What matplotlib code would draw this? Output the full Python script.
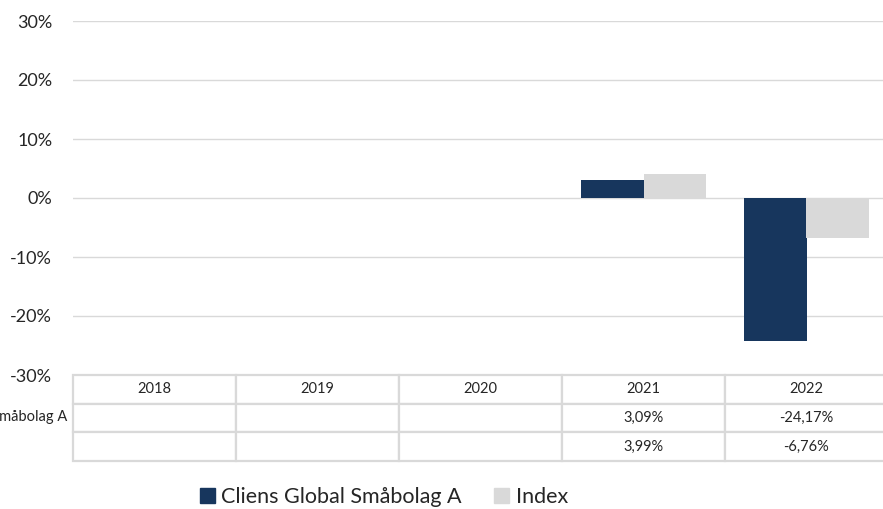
import matplotlib.pyplot as plt
import numpy as np
from matplotlib.patches import Patch

years = ["2018", "2019", "2020", "2021", "2022"]
fund_name = "Cliens Global Småbolag A"
index_name = "Index"
fund = [np.nan, np.nan, np.nan, 3.09, -24.17]
index = [np.nan, np.nan, np.nan, 3.99, -6.76]
yticks = [-30, -20, -10, 0, 10, 20, 30]

NAVY = "#17365d"
GREY = "#d9d9d9"
LINE = "#d9d9d9"
TXT = "#262626"

plt.rcParams["font.family"] = ["Lato", "DejaVu Sans"]


def pct(v):
    if np.isnan(v):
        return ""
    return f"{v:.2f}%".replace(".", ",")


W, H = 883, 509
fig = plt.figure(figsize=(W / 100, H / 100), dpi=100)
left, right, top, bottom = 73, 888, 21, 375
ax = fig.add_axes([left / W, 1 - bottom / H, (right - left) / W, (bottom - top) / H])

x = np.arange(len(years))
bw = 0.386
ax.bar(x - bw / 2, fund, bw, color=NAVY, zorder=3)
ax.bar(x + bw / 2, index, bw, color=GREY, zorder=3)

ax.set_xlim(-0.5, len(years) - 0.5)
ax.set_ylim(-30, 30)
ax.set_yticks(yticks)
ax.set_yticklabels([f"{t}%" for t in yticks], fontsize=13, color=TXT)
ax.tick_params(axis="y", length=0, pad=15)
ax.set_xticks([])
ax.grid(axis="y", color=LINE, linewidth=1, zorder=0)
for s in ax.spines.values():
    s.set_visible(False)

# data table under the plot
row_h = 86 / (bottom - top)
cells = [years, [pct(v) for v in fund], [pct(v) for v in index]]
tbl = ax.table(cellText=cells, cellLoc="center", bbox=[0, -row_h, 1, row_h])
tbl.auto_set_font_size(False)
for (r, c), cell in tbl.get_celld().items():
    cell.set_edgecolor(LINE)
    cell.set_linewidth(1.6)
    cell.set_text_props(fontsize=10.5, color=TXT)

# row label (cut by the figure edge as in the source)
fig.text(67 / W, 1 - 417 / H, fund_name, ha="right", va="center",
         fontsize=10.5, color=TXT)

handles = [Patch(color=NAVY, label=fund_name), Patch(color=GREY, label=index_name)]
fig.legend(handles=handles, loc="center", bbox_to_anchor=(384 / W, 1 - 497 / H), ncol=2,
           frameon=False, handlelength=0.7, handleheight=0.7,
           handletextpad=0.3, columnspacing=1.5, labelcolor=TXT,
           prop={"size": 15.5})

fig.savefig("out.png", dpi=100)
